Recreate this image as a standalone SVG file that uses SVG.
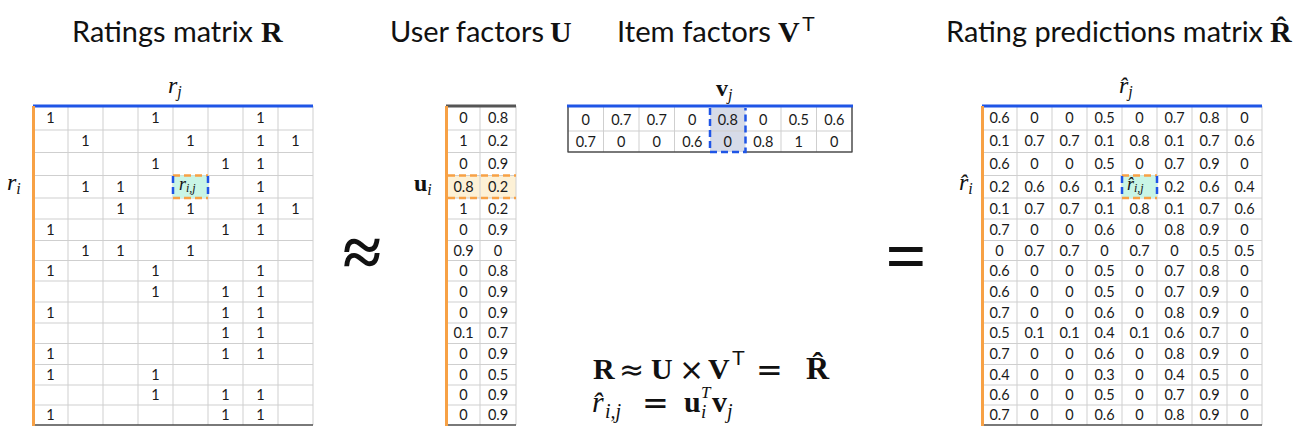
<svg xmlns="http://www.w3.org/2000/svg" width="1306" height="441" viewBox="0 0 1306 441">
<style>
.title{font-family:Lato,"Open Sans","Liberation Sans",sans-serif;font-size:28px;fill:#111}
.mb{font-family:"Liberation Serif","DejaVu Serif",serif;font-weight:bold;font-style:normal;fill:#111}
.mi{font-family:"Liberation Serif","DejaVu Serif",serif;font-style:italic;font-weight:normal;fill:#111}
.op{font-family:"DejaVu Sans","Liberation Sans",sans-serif;font-style:normal;font-weight:normal;fill:#111}
.ms{font-family:"Liberation Sans","DejaVu Sans",sans-serif;font-style:normal;font-weight:normal;fill:#111}
.c{font-family:Lato,"Open Sans","Liberation Sans",sans-serif;font-size:14.5px;fill:#1a1a1a;text-anchor:middle}
.grid{fill:none;stroke:#cfcfcf;stroke-width:1}
.dark{fill:none;stroke:#4d4d4d;stroke-width:1.5}
.blue{fill:none;stroke:#1f55e6;stroke-width:3}
.orange{fill:none;stroke:#f7a145;stroke-width:3}
.dashO{fill:none;stroke:#f7a145;stroke-width:2.5;stroke-dasharray:7 4}
.dashB{fill:none;stroke:#1f55e6;stroke-width:2.5;stroke-dasharray:7 4}
</style>
<defs>
<path id="grid8" class="grid" d="M35 106V425M70 106V425M105 106V425M140 106V425M175 106V425M210 106V425M245 106V425M280 106V425M0 130H280M0 152.5H280M0 175.5H280M0 198H280M0 219H280M0 240.5H280M0 260.5H280M0 281H280M0 302H280M0 323H280M0 343.5H280M0 364.5H280M0 385H280M0 405H280"/>
</defs>

<g id="titles">
<text class="title" x="72" y="42" textLength="181" lengthAdjust="spacingAndGlyphs">Ratings matrix</text>
<text class="mb" x="261" y="42" font-size="30">R</text>
<text class="title" x="390" y="42" textLength="154" lengthAdjust="spacingAndGlyphs">User factors</text>
<text class="mb" x="550" y="42" font-size="30">U</text>
<text class="title" x="617" y="42" textLength="154" lengthAdjust="spacingAndGlyphs">Item factors</text>
<text class="mb" x="778" y="42" font-size="30">V</text>
<text class="ms" x="802" y="31" font-size="21">T</text>
<text class="title" x="946" y="42" textLength="317" lengthAdjust="spacingAndGlyphs">Rating predictions matrix</text>
<text class="mb" x="1270" y="42" font-size="30">R̂</text>
</g>

<g id="matrix-R">
<use href="#grid8" x="33"/>
<rect x="173" y="175.5" width="35" height="22.5" fill="#c9f5e6"/>
<path class="dark" d="M33 425H313"/>
<path class="blue" d="M33 106H313"/>
<path class="orange" d="M33.5 106V426"/>
<path class="dashO" d="M173 175.5H208M173 198H208"/>
<path class="dashB" d="M173 176V198M208 176V198"/>
<text class="mi" x="168" y="93" font-size="24">r<tspan font-size="16" dy="4">j</tspan></text>
<text class="mi" x="7" y="190" font-size="24">r<tspan font-size="16" dy="4">i</tspan></text>
<text class="mi" x="179" y="190" font-size="18">r<tspan font-size="12" dy="2">i,j</tspan></text>
<g class="c">
<text x="50.5 155.5 260.5" y="123">111</text>
<text x="85.5 190.5 260.5 295.5" y="146.3">1111</text>
<text x="155.5 225.5 260.5" y="169">111</text>
<text x="85.5 120.5 260.5" y="191.8">111</text>
<text x="120.5 190.5 260.5 295.5" y="213.5">1111</text>
<text x="50.5 225.5 260.5" y="234.8">111</text>
<text x="85.5 120.5 190.5" y="255.5">111</text>
<text x="50.5 155.5 260.5" y="275.8">111</text>
<text x="155.5 225.5 260.5" y="296.5">111</text>
<text x="50.5 225.5 260.5" y="317.5">111</text>
<text x="225.5 260.5" y="338.3">11</text>
<text x="50.5 225.5 260.5" y="359">111</text>
<text x="50.5 155.5" y="379.8">11</text>
<text x="155.5 225.5 260.5" y="400">111</text>
<text x="50.5 225.5 260.5" y="420">111</text>
</g>
</g>

<g id="approx">
<text class="mb" x="362" y="276" font-size="70" text-anchor="middle">≈</text>
</g>

<g id="matrix-U">
<rect x="447.5" y="175.5" width="68.5" height="22.5" fill="#fdf1d6"/>
<path class="grid" d="M480 106V425M516 106V425M446 130H516M446 152.5H516M446 175.5H516M446 198H516M446 219H516M446 240.5H516M446 260.5H516M446 281H516M446 302H516M446 323H516M446 343.5H516M446 364.5H516M446 385H516M446 405H516"/>
<path class="dark" d="M446 425H516"/>
<path fill="none" stroke="#555" stroke-width="3" d="M446 106H516"/>
<path class="orange" d="M446.5 106V426"/>
<path class="dashO" d="M448 175.5H516M448 198H516"/>
<text x="414" y="191" class="mb" font-size="24">u<tspan class="mi" font-size="16" dy="4">i</tspan></text>
<g class="c">
<text y="123"><tspan x="463.5">0</tspan><tspan x="498">0.8</tspan></text>
<text y="146.3"><tspan x="463.5">1</tspan><tspan x="498">0.2</tspan></text>
<text y="169"><tspan x="463.5">0</tspan><tspan x="498">0.9</tspan></text>
<text y="191.8"><tspan x="463.5">0.8</tspan><tspan x="498">0.2</tspan></text>
<text y="213.5"><tspan x="463.5">1</tspan><tspan x="498">0.2</tspan></text>
<text y="234.8"><tspan x="463.5">0</tspan><tspan x="498">0.9</tspan></text>
<text y="255.5"><tspan x="463.5">0.9</tspan><tspan x="498">0</tspan></text>
<text y="275.8"><tspan x="463.5">0</tspan><tspan x="498">0.8</tspan></text>
<text y="296.5"><tspan x="463.5">0</tspan><tspan x="498">0.9</tspan></text>
<text y="317.5"><tspan x="463.5">0</tspan><tspan x="498">0.9</tspan></text>
<text y="338.3"><tspan x="463.5">0.1</tspan><tspan x="498">0.7</tspan></text>
<text y="359"><tspan x="463.5">0</tspan><tspan x="498">0.9</tspan></text>
<text y="379.8"><tspan x="463.5">0</tspan><tspan x="498">0.5</tspan></text>
<text y="400"><tspan x="463.5">0</tspan><tspan x="498">0.9</tspan></text>
<text y="420"><tspan x="463.5">0</tspan><tspan x="498">0.9</tspan></text>
</g>
</g>

<g id="matrix-VT">
<rect x="710" y="107.5" width="35.5" height="44.5" fill="#d6dbe8"/>
<path class="grid" d="M603.5 106V152M639 106V152M674.5 106V152M781 106V152M816.5 106V152M568 131H852"/>
<path class="dark" d="M568 106V152.5M852 106V152.5M568 152H710M745.5 152H852"/>
<path class="blue" d="M567 106H853"/>
<path class="dashB" d="M710 108V152H745.5V108"/>
<text x="716" y="96" class="mb" font-size="24">v<tspan class="mi" font-size="16" dy="4">j</tspan></text>
<g class="c">
<text y="125"><tspan x="585.75">0</tspan><tspan x="621.25">0.7</tspan><tspan x="656.75">0.7</tspan><tspan x="692.25">0</tspan><tspan x="727.75">0.8</tspan><tspan x="763.25">0</tspan><tspan x="798.75">0.5</tspan><tspan x="834.25">0.6</tspan></text>
<text y="147"><tspan x="585.75">0.7</tspan><tspan x="621.25">0</tspan><tspan x="656.75">0</tspan><tspan x="692.25">0.6</tspan><tspan x="727.75">0</tspan><tspan x="763.25">0.8</tspan><tspan x="798.75">1</tspan><tspan x="834.25">0</tspan></text>
</g>
</g>

<g id="equals">
<text class="mb" x="906" y="280" font-size="72" text-anchor="middle">=</text>
</g>

<g id="matrix-Rhat">
<use href="#grid8" x="982"/>
<rect x="1122" y="175.5" width="35" height="22.5" fill="#c9f5e6"/>
<path class="dark" d="M982 425H1262"/>
<path class="blue" d="M982 106H1262"/>
<path class="orange" d="M982.5 106V426"/>
<path class="dashO" d="M1122 175.5H1157M1122 198H1157"/>
<path class="dashB" d="M1122 176V198M1157 176V198"/>
<text class="mi" x="1119" y="93" font-size="24">r̂<tspan font-size="16" dy="4">j</tspan></text>
<text class="mi" x="959" y="190" font-size="24">r̂<tspan font-size="16" dy="4">i</tspan></text>
<text class="mi" x="1127" y="190" font-size="18">r̂<tspan font-size="12" dy="2">i,j</tspan></text>
<g class="c">
<text y="123"><tspan x="999.5">0.6</tspan><tspan x="1034.5">0</tspan><tspan x="1069.5">0</tspan><tspan x="1104.5">0.5</tspan><tspan x="1139.5">0</tspan><tspan x="1174.5">0.7</tspan><tspan x="1209.5">0.8</tspan><tspan x="1244.5">0</tspan></text>
<text y="146.3"><tspan x="999.5">0.1</tspan><tspan x="1034.5">0.7</tspan><tspan x="1069.5">0.7</tspan><tspan x="1104.5">0.1</tspan><tspan x="1139.5">0.8</tspan><tspan x="1174.5">0.1</tspan><tspan x="1209.5">0.7</tspan><tspan x="1244.5">0.6</tspan></text>
<text y="169"><tspan x="999.5">0.6</tspan><tspan x="1034.5">0</tspan><tspan x="1069.5">0</tspan><tspan x="1104.5">0.5</tspan><tspan x="1139.5">0</tspan><tspan x="1174.5">0.7</tspan><tspan x="1209.5">0.9</tspan><tspan x="1244.5">0</tspan></text>
<text y="191.8"><tspan x="999.5">0.2</tspan><tspan x="1034.5">0.6</tspan><tspan x="1069.5">0.6</tspan><tspan x="1104.5">0.1</tspan><tspan x="1174.5">0.2</tspan><tspan x="1209.5">0.6</tspan><tspan x="1244.5">0.4</tspan></text>
<text y="213.5"><tspan x="999.5">0.1</tspan><tspan x="1034.5">0.7</tspan><tspan x="1069.5">0.7</tspan><tspan x="1104.5">0.1</tspan><tspan x="1139.5">0.8</tspan><tspan x="1174.5">0.1</tspan><tspan x="1209.5">0.7</tspan><tspan x="1244.5">0.6</tspan></text>
<text y="234.8"><tspan x="999.5">0.7</tspan><tspan x="1034.5">0</tspan><tspan x="1069.5">0</tspan><tspan x="1104.5">0.6</tspan><tspan x="1139.5">0</tspan><tspan x="1174.5">0.8</tspan><tspan x="1209.5">0.9</tspan><tspan x="1244.5">0</tspan></text>
<text y="255.5"><tspan x="999.5">0</tspan><tspan x="1034.5">0.7</tspan><tspan x="1069.5">0.7</tspan><tspan x="1104.5">0</tspan><tspan x="1139.5">0.7</tspan><tspan x="1174.5">0</tspan><tspan x="1209.5">0.5</tspan><tspan x="1244.5">0.5</tspan></text>
<text y="275.8"><tspan x="999.5">0.6</tspan><tspan x="1034.5">0</tspan><tspan x="1069.5">0</tspan><tspan x="1104.5">0.5</tspan><tspan x="1139.5">0</tspan><tspan x="1174.5">0.7</tspan><tspan x="1209.5">0.8</tspan><tspan x="1244.5">0</tspan></text>
<text y="296.5"><tspan x="999.5">0.6</tspan><tspan x="1034.5">0</tspan><tspan x="1069.5">0</tspan><tspan x="1104.5">0.5</tspan><tspan x="1139.5">0</tspan><tspan x="1174.5">0.7</tspan><tspan x="1209.5">0.9</tspan><tspan x="1244.5">0</tspan></text>
<text y="317.5"><tspan x="999.5">0.7</tspan><tspan x="1034.5">0</tspan><tspan x="1069.5">0</tspan><tspan x="1104.5">0.6</tspan><tspan x="1139.5">0</tspan><tspan x="1174.5">0.8</tspan><tspan x="1209.5">0.9</tspan><tspan x="1244.5">0</tspan></text>
<text y="338.3"><tspan x="999.5">0.5</tspan><tspan x="1034.5">0.1</tspan><tspan x="1069.5">0.1</tspan><tspan x="1104.5">0.4</tspan><tspan x="1139.5">0.1</tspan><tspan x="1174.5">0.6</tspan><tspan x="1209.5">0.7</tspan><tspan x="1244.5">0</tspan></text>
<text y="359"><tspan x="999.5">0.7</tspan><tspan x="1034.5">0</tspan><tspan x="1069.5">0</tspan><tspan x="1104.5">0.6</tspan><tspan x="1139.5">0</tspan><tspan x="1174.5">0.8</tspan><tspan x="1209.5">0.9</tspan><tspan x="1244.5">0</tspan></text>
<text y="379.8"><tspan x="999.5">0.4</tspan><tspan x="1034.5">0</tspan><tspan x="1069.5">0</tspan><tspan x="1104.5">0.3</tspan><tspan x="1139.5">0</tspan><tspan x="1174.5">0.4</tspan><tspan x="1209.5">0.5</tspan><tspan x="1244.5">0</tspan></text>
<text y="400"><tspan x="999.5">0.6</tspan><tspan x="1034.5">0</tspan><tspan x="1069.5">0</tspan><tspan x="1104.5">0.5</tspan><tspan x="1139.5">0</tspan><tspan x="1174.5">0.7</tspan><tspan x="1209.5">0.9</tspan><tspan x="1244.5">0</tspan></text>
<text y="420"><tspan x="999.5">0.7</tspan><tspan x="1034.5">0</tspan><tspan x="1069.5">0</tspan><tspan x="1104.5">0.6</tspan><tspan x="1139.5">0</tspan><tspan x="1174.5">0.8</tspan><tspan x="1209.5">0.9</tspan><tspan x="1244.5">0</tspan></text>
</g>
</g>

<g id="formula">
<text class="mb" x="593" y="379" font-size="30">R</text>
<text class="op" x="619" y="380" font-size="30">≈</text>
<text class="mb" x="651" y="379" font-size="30">U</text>
<text class="op" x="679" y="380" font-size="30">×</text>
<text class="mb" x="708" y="379" font-size="30">V</text>
<text class="ms" x="732" y="365" font-size="21">T</text>
<text class="op" x="756" y="381" font-size="32">=</text>
<text class="mb" x="806" y="379" font-size="32">R̂</text>
<text class="mi" x="592" y="412" font-size="30">r̂</text>
<text class="mi" x="605" y="418" font-size="20">i,j</text>
<text class="op" x="642" y="414" font-size="32">=</text>
<text class="mb" x="684" y="412" font-size="30">u</text>
<text class="mi" x="701" y="398" font-size="17">T</text>
<text class="mi" x="701" y="418" font-size="19">i</text>
<text class="mb" x="712" y="412" font-size="30">v</text>
<text class="mi" x="727" y="418" font-size="20">j</text>
</g>
</svg>
